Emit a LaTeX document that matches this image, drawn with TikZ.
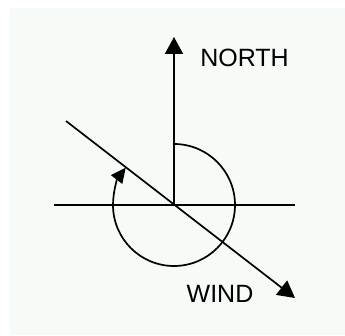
\documentclass[tikz,border=0pt]{standalone}
\usepackage{fontspec}
\setmainfont{Liberation Sans}
\usetikzlibrary{arrows.meta}
\definecolor{bgcol}{HTML}{F6FBF7}
\tikzset{
  line/.style={line width=1.7pt, black},
  bigtip/.style={-{Triangle[length=17pt,width=18pt]}},
  smalltip/.style={-{Triangle[length=15pt,width=14pt]}},
  lbl/.style={inner sep=0pt, font=\fontsize{25}{30}\selectfont}
}
\begin{document}
\begin{tikzpicture}[x=1pt,y=1pt]
\useasboundingbox (0,0) rectangle (345,335);
\fill[white] (0,0) rectangle (345,335);
\fill[bgcol] (10,0) rectangle (345,327);
\coordinate (C) at (174,130);
\coordinate (Ntip) at (174,298);
\coordinate (Hl) at (54,130);
\coordinate (Hr) at (295,130);
\coordinate (Ds) at (66,214);
\coordinate (De) at (295,37);
\coordinate (Atop) at (174,191);
\draw[line] (Hl) -- (Hr);
\draw[line,bigtip] (C) -- (Ntip);
\draw[line,bigtip] (Ds) -- (De);
\draw[line,smalltip] (Atop) arc[start angle=90, end angle=-217.7, radius=61];
\node[lbl] (north) at (244.5,277.5) {NORTH};
\node[lbl] (wind) at (220,41) {WIND};
\end{tikzpicture}
\end{document}
